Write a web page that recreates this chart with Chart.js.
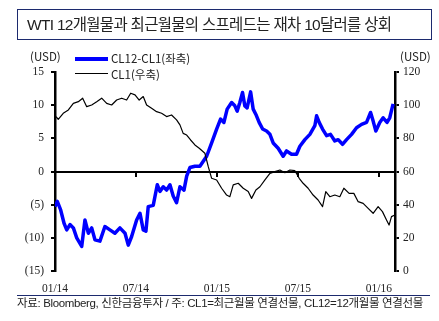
<!DOCTYPE html>
<html>
<head>
<meta charset="utf-8">
<script src="https://cdn.jsdelivr.net/npm/chart.js@4.4.1/dist/chart.umd.min.js"></script>
<style>
  html, body { margin: 0; padding: 0; background: #fff; }
  #wrap { position: relative; width: 439px; height: 321px; overflow: hidden; }
  #chart { position: absolute; left: 0; top: 0; }
  .txt { position: absolute; white-space: nowrap; color: #222; font-family: "Liberation Sans", Arial, "Noto Sans CJK KR", sans-serif; }
  #title { left: 17px; top: 9px; width: 404px; height: 29px; border: 1px solid #1c2a6e; font-size: 15.5px; line-height: 29px; padding-left: 9px; box-sizing: content-box; letter-spacing: -0.7px; }
  #rule { position: absolute; left: 17px; top: 295px; width: 413px; height: 0; border-top: 1.5px solid #1c2a6e; }
  #source { left: 17px; top: 297px; font-size: 11.5px; line-height: 13px; letter-spacing: -0.35px; }
  .narrow { font-family: "Liberation Sans Narrow", "Noto Sans CJK KR", sans-serif; font-size: 11.5px; line-height: 12px; }
  .swatch { position: absolute; }
</style>
</head>
<body>
<div id="wrap">
  <canvas id="chart" width="439" height="321"></canvas>
  <div id="title" class="txt">WTI 12개월물과 최근월물의 스프레드는 재차 10달러를 상회</div>
  <div class="txt narrow" style="left:30px; top:50px;">(USD)</div>
  <div class="txt narrow" style="left:400px; top:50px;">(USD)</div>
  <div class="swatch" style="left:75px; top:57px; width:33px; height:4px; background:#0000ff;"></div>
  <div class="txt narrow" style="left:111px; top:52px;">CL12-CL1(좌축)</div>
  <div class="swatch" style="left:75px; top:73px; width:33px; height:1.4px; background:#000;"></div>
  <div class="txt narrow" style="left:111px; top:68px;">CL1(우축)</div>
  <div id="rule"></div>
  <div id="source" class="txt">자료: Bloomberg, 신한금융투자 / 주: CL1=최근월물 연결선물, CL12=12개월물 연결선물</div>
</div>
<script>
// WTI CL12-CL1 spread (left axis) vs CL1 price (right axis)
// x values are months since 01/2014

const tickMonths = [0, 6, 12, 18, 24];
const tickLabels = ['01/14', '07/14', '01/15', '07/15', '01/16'];

const spreadMonths = [
  0.00, 0.17, 0.42, 0.67, 0.87, 1.11, 1.36, 1.61, 1.98, 2.22, 2.47, 2.72, 2.96, 3.33,
  3.70, 4.07, 4.44, 4.81, 5.19, 5.43, 5.68, 6.05, 6.30, 6.54, 6.74, 6.91, 7.28, 7.58,
  7.78, 8.02, 8.27, 8.52, 8.76, 9.01, 9.26, 9.56, 9.76, 10.00, 10.37, 10.74, 11.24,
  11.61, 11.98, 12.27, 12.52, 12.76, 13.09, 13.33, 13.50, 13.70, 13.90, 14.07, 14.24,
  14.50, 14.69, 14.89, 15.13, 15.39, 15.68, 15.93, 16.17, 16.54, 16.91, 17.16, 17.53,
  17.90, 18.15, 18.52, 18.89, 19.26, 19.39, 19.58, 19.83, 20.13, 20.42, 20.74, 20.99,
  21.31, 21.61, 21.98, 22.35, 22.72, 23.09, 23.39, 23.58, 23.78, 24.07, 24.32, 24.61,
  24.81, 25.06
];
const spreadValues = [
  -5.3, -4.5, -5.8, -7.8, -8.8, -8.0, -8.5, -10.0, -11.3, -7.3, -9.3, -8.5, -10.3, -10.5,
  -8.3, -8.8, -9.3, -8.5, -9.3, -11.1, -9.8, -7.3, -6.3, -8.8, -9.0, -5.3, -5.1, -2.0,
  -3.0, -2.3, -2.8, -2.0, -3.7, -4.7, -2.3, -2.8, -0.7, 0.6, 0.8, 0.8, 2.3,
  4.3, 6.4, 7.9, 7.4, 9.4, 10.4, 9.9, 9.1, 10.4, 11.9, 9.9, 9.6,
  12.0, 9.4, 8.6, 7.4, 6.4, 6.1, 5.6, 4.3, 3.5, 2.3, 3.1, 2.6,
  2.6, 3.8, 4.8, 5.6, 6.9, 8.4, 7.4, 6.4, 5.4, 5.6, 4.6, 4.8,
  4.1, 4.8, 5.6, 6.6, 7.1, 7.4, 8.9, 7.6, 6.1, 7.4, 8.1, 7.4,
  8.1, 10.2
];

const cl1Months = [
  0.07, 0.24, 0.61, 0.99, 1.36, 1.73, 2.05, 2.35, 2.72, 3.09, 3.46, 3.83, 4.20, 4.57,
  4.94, 5.31, 5.61, 5.93, 6.24, 6.54, 6.79, 7.16, 7.53, 7.90, 8.27, 8.64, 9.01, 9.26,
  9.50, 9.76, 10.05, 10.37, 10.69, 11.11, 11.36, 11.61, 11.98, 12.35, 12.72, 12.96,
  13.21, 13.58, 13.95, 14.32, 14.57, 14.89, 15.19, 15.56, 15.93, 16.30, 16.67, 17.04,
  17.41, 17.78, 18.10, 18.39, 18.76, 19.13, 19.50, 19.83, 20.07, 20.37, 20.74, 21.11,
  21.41, 21.80, 22.15, 22.47, 22.84, 23.21, 23.58, 23.95, 24.27, 24.57, 24.76, 24.94,
  25.19
];
const cl1Values = [
  93.1, 91.5, 95.1, 97.1, 101.1, 102.1, 104.2, 99.1, 100.1, 102.1, 104.2, 101.1, 100.1, 103.1,
  104.2, 103.1, 107.2, 106.2, 103.1, 105.2, 100.1, 98.1, 96.1, 95.1, 93.1, 94.1, 91.1, 88.1,
  83.0, 82.0, 79.0, 76.0, 74.0, 71.0, 62.9, 55.9, 54.9, 49.9, 45.8, 44.8,
  51.9, 52.9, 49.9, 47.9, 43.8, 48.9, 50.8, 54.9, 58.9, 59.9, 60.9, 59.3,
  60.9, 60.5, 55.9, 52.9, 49.9, 45.8, 42.8, 38.8, 47.9, 44.8, 45.8, 44.8,
  49.9, 46.8, 46.8, 41.8, 40.8, 37.8, 34.8, 38.8, 35.8, 30.8, 27.7, 32.8,
  33.8
];

const X_MAX = 25.2;
const tickFont = { family: 'Liberation Sans Narrow', size: 11.5 };

function toPoints(xs, ys) {
  return xs.map((x, i) => ({ x: x, y: ys[i] }));
}

function fixedWidth(w) {
  return scale => { scale.width = w; };
}

const ctx = document.getElementById('chart').getContext('2d');

new Chart(ctx, {
  type: 'line',
  data: {
    datasets: [
      {
        label: 'CL12-CL1(좌축)',
        data: toPoints(spreadMonths, spreadValues),
        borderColor: '#0000ff',
        borderWidth: 3.5,
        yAxisID: 'y',
        xAxisID: 'x',
        order: 2
      },
      {
        label: 'CL1(우축)',
        data: toPoints(cl1Months, cl1Values),
        borderColor: '#000000',
        borderWidth: 1.2,
        yAxisID: 'y1',
        xAxisID: 'x',
        order: 1
      }
    ]
  },
  options: {
    responsive: false,
    animation: false,
    parsing: false,
    elements: {
      point: { radius: 0 },
      line: { tension: 0, borderJoinStyle: 'round' }
    },
    layout: { padding: { top: 72, left: 0, right: 0, bottom: 0 } },
    plugins: {
      legend: { display: false },
      tooltip: { enabled: false }
    },
    scales: {
      // zero line with small tick marks under it
      x: {
        type: 'linear',
        position: { y: 0 },
        min: 0,
        max: X_MAX,
        afterBuildTicks: s => { s.ticks = tickMonths.map(v => ({ value: v })); },
        ticks: { display: false },
        grid: { drawOnChartArea: false, drawTicks: true, tickLength: 4, color: '#000', lineWidth: 2 },
        border: { display: true, color: '#000', width: 2 }
      },
      // date labels at the bottom
      x2: {
        type: 'linear',
        position: 'bottom',
        min: 0,
        max: X_MAX,
        afterBuildTicks: s => { s.ticks = tickMonths.map(v => ({ value: v })); },
        afterFit: s => { s.height = 50; },
        ticks: {
          font: tickFont,
          color: '#222',
          padding: 11,
          maxRotation: 0,
          callback: (v) => tickLabels[tickMonths.indexOf(v)]
        },
        grid: { display: false, drawTicks: false },
        border: { display: false }
      },
      y: {
        position: 'left',
        min: -15,
        max: 15,
        afterBuildTicks: s => { s.ticks = [15, 10, 5, 0, -5, -10, -15].map(v => ({ value: v })); },
        afterFit: fixedWidth(55),
        ticks: {
          font: tickFont,
          color: '#222',
          padding: 7,
          callback: v => (v < 0 ? '(' + (-v) + ')' : String(v))
        },
        grid: { drawOnChartArea: false, drawTicks: true, tickLength: 4, color: '#000', lineWidth: 2 },
        border: { display: true, color: '#000', width: 2.5 }
      },
      y1: {
        position: 'right',
        min: 0,
        max: 120,
        afterBuildTicks: s => { s.ticks = [0, 20, 40, 60, 80, 100, 120].map(v => ({ value: v })); },
        afterFit: fixedWidth(44),
        ticks: {
          font: tickFont,
          color: '#222',
          padding: 4
        },
        grid: { drawOnChartArea: false, drawTicks: true, tickLength: 4, color: '#000', lineWidth: 2 },
        border: { display: true, color: '#000', width: 2.5 }
      }
    }
  }
});
</script>
</body>
</html>
